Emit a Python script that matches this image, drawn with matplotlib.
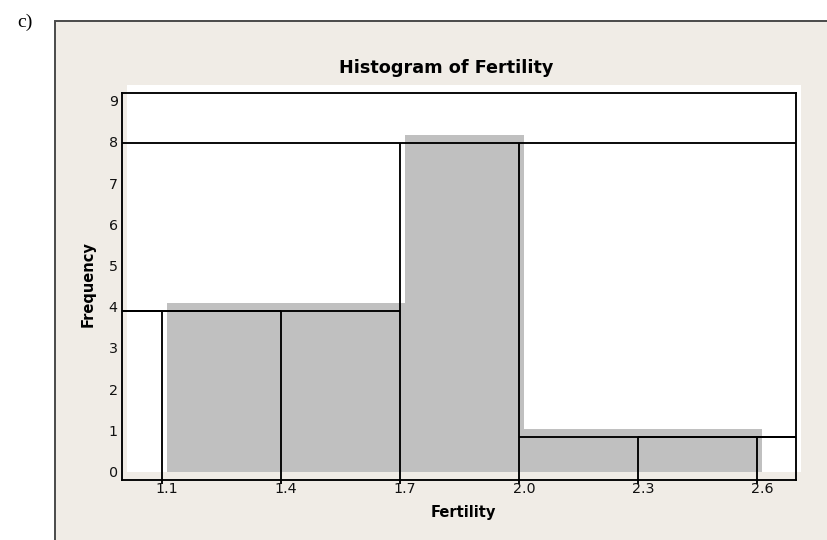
import numpy as np
import matplotlib
matplotlib.use('Agg')
import matplotlib.pyplot as plt
from matplotlib.patches import Rectangle

# histogram data
bin_edges = [1.1, 1.4, 1.7, 2.0, 2.3, 2.6]
counts = [4, 4, 8, 1, 1]
x_ticks = [1.1, 1.4, 1.7, 2.0, 2.3, 2.6]
x_tick_labels = ['1.1', '1.4', '1.7', '2.0', '2.3', '2.6']
y_ticks = [0, 1, 2, 3, 4, 5, 6, 7, 8, 9]

W, H = 828, 540
XLIM = (1.0, 2.7)
PANEL = '#f0ece6'
GREY = '#c0c0c0'
LW = 1.35


def rect(left, top, right, bottom):
    """pixel box (from top-left) -> figure fraction rect"""
    return [left / W, (H - bottom) / H, (right - left) / W, (bottom - top) / H]


fig = plt.figure(figsize=(W / 100, H / 100), dpi=100)
fig.patch.set_facecolor('white')

# beige panel with dark border on left / top (behind the axes)
fig.patches.append(Rectangle((55 / W, -0.1), 1.0, (H - 21) / H + 0.1,
                             transform=fig.transFigure, facecolor=PANEL,
                             edgecolor='#4a4a4a', linewidth=1.4, zorder=-5))
fig.text(17 / W, 1 - 22 / H, 'c)', family='Liberation Serif', fontsize=14,
         va='center', ha='left')

# grey bar layer with white plot area
ax = fig.add_axes(rect(127.5, 85, 801.5, 471.5))
ax.set_facecolor('white')
widths = np.diff(bin_edges)
ax.bar(bin_edges[:-1], counts, width=widths, align='edge', color=GREY,
       edgecolor='none')
ax.set_xlim(*XLIM)
ax.set_ylim(0, 9.2)
for s in ax.spines.values():
    s.set_visible(False)
ax.set_yticks([])
ax.set_xticks(x_ticks)
ax.set_xticklabels(x_tick_labels, fontsize=10.3, color='#111111')
ax.tick_params(axis='x', length=0, pad=7.5)

# black outline layer, drawn a few pixels off like the original
ax2 = fig.add_axes(rect(122.5, 93, 796.5, 479.5))
ax2.patch.set_visible(False)
ax2.set_xlim(*XLIM)
ax2.set_ylim(0, 9.2)
for s in ax2.spines.values():
    s.set_color('black')
    s.set_linewidth(LW)
ax2.set_yticks([])
ax2.set_xticks(x_ticks)
ax2.set_xticklabels([])
ax2.tick_params(axis='x', direction='out', length=3, width=LW, color='black')

edge_heights = []
for i, e in enumerate(bin_edges):
    left = counts[i - 1] if i > 0 else 0
    right = counts[i] if i < len(counts) else 0
    edge_heights.append(max(left, right))
ax2.vlines(bin_edges, 0, edge_heights, colors='black', linewidth=LW)

peak = int(np.argmax(counts))
for i, c in enumerate(counts):
    if i < peak:
        ax2.hlines(c, XLIM[0], bin_edges[i + 1], colors='black', linewidth=LW)
    elif i == peak:
        ax2.hlines(c, XLIM[0], XLIM[1], colors='black', linewidth=LW)
    else:
        ax2.hlines(c, bin_edges[i], XLIM[1], colors='black', linewidth=LW)

# y tick labels sit on their own slightly different scale
ax3 = fig.add_axes(rect(127.5, 100.8, 801.5, 471.5))
ax3.patch.set_visible(False)
for s in ax3.spines.values():
    s.set_visible(False)
ax3.set_ylim(0, 9)
ax3.set_xticks([])
ax3.set_yticks(y_ticks)
ax3.set_yticklabels([str(t) for t in y_ticks], fontsize=10.3, color='#111111')
ax3.tick_params(axis='y', length=0, pad=7)

fig.text(446 / W, 1 - 68 / H, 'Histogram of Fertility', fontsize=12.7,
         fontweight='bold', ha='center', va='center')
fig.text(463.5 / W, 1 - 513 / H, 'Fertility', fontsize=10.5,
         fontweight='bold', ha='center', va='center')
fig.text(88 / W, 1 - 284 / H, 'Frequency', fontsize=10.5, fontweight='bold',
         rotation=90, ha='center', va='center')

fig.savefig('out.png', dpi=100)
